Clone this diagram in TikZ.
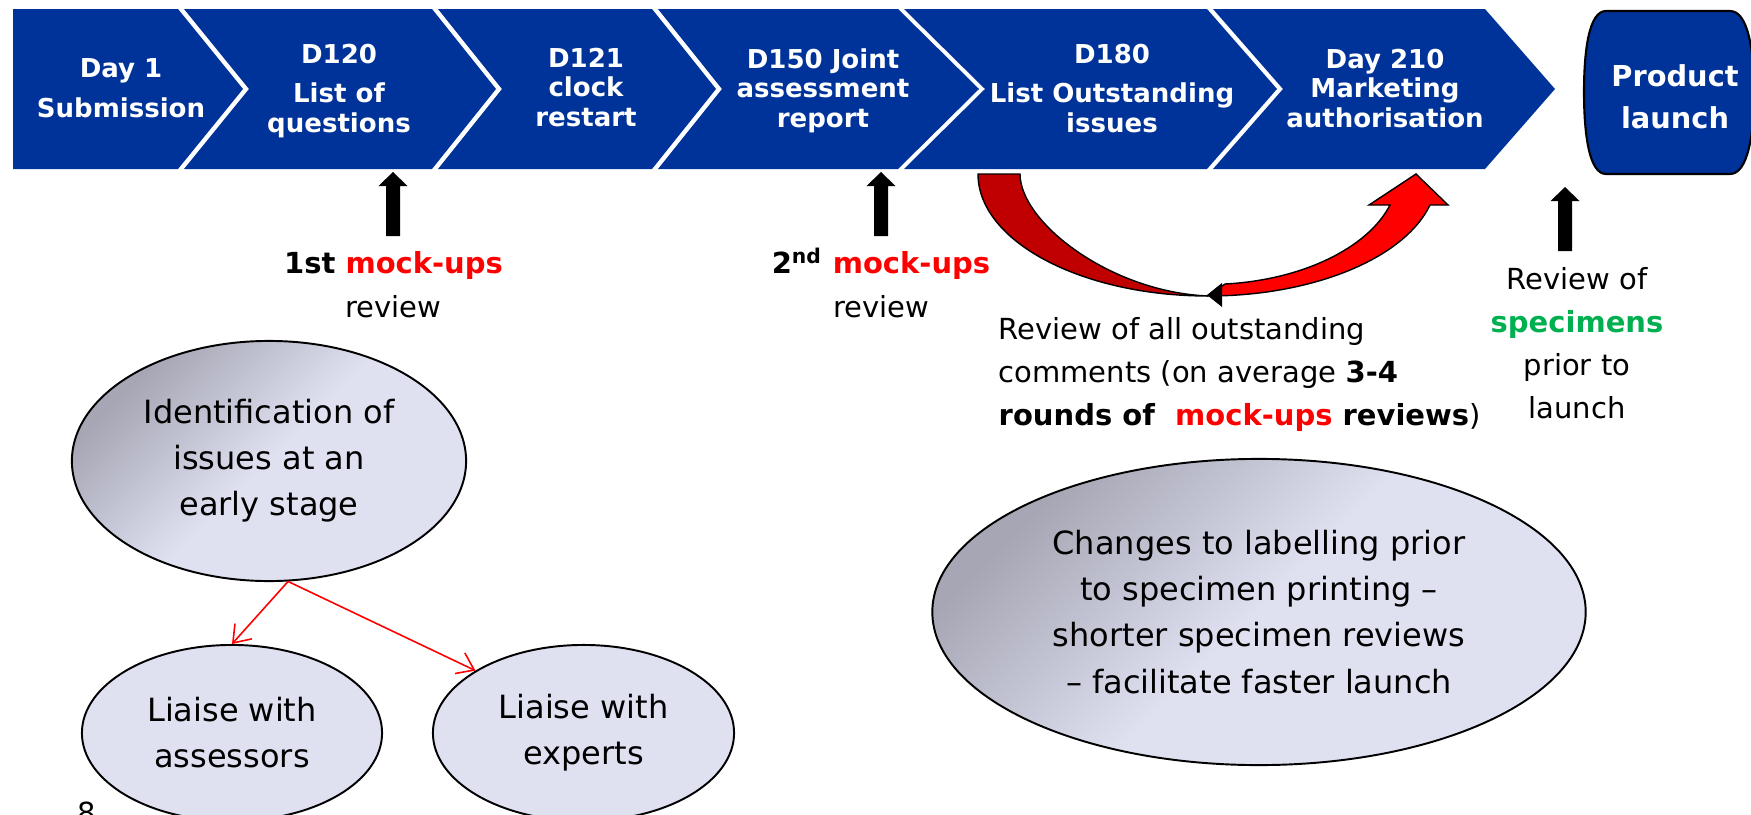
\documentclass[tikz,border=0pt]{standalone}
\usepackage{fontspec}
\setmainfont{DejaVu Sans}
\usetikzlibrary{arrows.meta,shapes.geometric}
\definecolor{evblue}{RGB}{0,51,153}
\definecolor{dred}{RGB}{192,0,0}
\definecolor{bred}{RGB}{255,0,0}
\definecolor{sgreen}{RGB}{0,176,80}
\definecolor{lav}{RGB}{223,225,241}
\definecolor{greyd}{RGB}{166,166,180}
\pgfdeclareverticalshading{ellgrad}{100bp}{color(0bp)=(lav); color(50bp)=(lav); color(74bp)=(greyd); color(100bp)=(greyd)}
\begin{document}
\begin{tikzpicture}[x=0.01cm, y=-0.01cm,
  chev/.style={fill=evblue},
  chevtext/.style={text=white, font=\bfseries\fontsize{7.4}{8.25}\selectfont, align=center, inner sep=0pt, anchor=base},
  plain/.style={font=\fontsize{8.25}{12.2}\selectfont, align=center, inner sep=0pt, anchor=base},
  ell/.style={ellipse, draw=black, line width=0.55pt, inner sep=0pt, font=\fontsize{9.1}{13.1}\selectfont, align=center},
  ellshade/.style={ell, shading=ellgrad, shading angle=45},
  ellflat/.style={ell, fill=lav},
  link/.style={draw=bred, line width=0.45pt, -{Straight Barb[length=4.5pt,width=6.5pt]}},
  blkarrow/.style={fill=black},
  bandpart/.style={draw=black, line width=0.4pt},
]
\useasboundingbox (0,0) rectangle (1751,815);
\fill[white] (0,0) rectangle (1751,815);

% chevrons
\fill[chev] (13,9) -- (178,9) -- (243,89) -- (178,169) -- (13,169) -- cycle;
\fill[chev] (184,9) -- (432,9) -- (496,89) -- (432,169) -- (184,169) -- (249,89) -- cycle;
\fill[chev] (438,9) -- (652,9) -- (716,89) -- (652,169) -- (438,169) -- (502,89) -- cycle;
\fill[chev] (658,9) -- (898,9) -- (979,89) -- (898,169) -- (658,169) -- (722,89) -- cycle;
\fill[chev] (904,9) -- (1207,9) -- (1277,89) -- (1207,169) -- (904,169) -- (985,89) -- cycle;
\fill[chev] (1213,9) -- (1485,9) -- (1555,89) -- (1485,169) -- (1213,169) -- (1283,89) -- cycle;

% (base anchor = baseline of last line)
\node[chevtext] (t1) at (121,117) {Day 1\\[2.85pt]Submission};
\node[chevtext] (t2) at (339,132) {D120\\[3.1pt]List of\\questions};
\node[chevtext] (t3) at (586,126) {D121\\clock\\restart};
\node[chevtext] (t4) at (823,127) {D150 Joint\\assessment\\report};
\node[chevtext] (t5) at (1112,132) {D180\\[3.1pt]List Outstanding\\issues};
\node[chevtext] (t6) at (1385,127) {Day 210\\Marketing\\authorisation};

% product launch
\path[fill=evblue, draw=black, line width=0.6pt] (1606,11) -- (1730,11)
  .. controls (1748,11) and (1754,50) .. (1754,92)
  .. controls (1754,134) and (1748,174) .. (1730,174) -- (1606,174)
  .. controls (1589,174) and (1584,134) .. (1584,92)
  .. controls (1584,50) and (1589,11) .. (1606,11) -- cycle;
\node[text=white, font=\bfseries\fontsize{8.2}{11.8}\selectfont, align=center, inner sep=0pt, anchor=base] (pl) at (1675,128) {Product\\launch};

% black block arrows
\fill[blkarrow] (386,236) -- (386,186) -- (378.5,186) -- (393,172) -- (407.5,186) -- (400,186) -- (400,236) -- cycle;
\fill[blkarrow] (874,236) -- (874,186) -- (866.5,186) -- (881,172) -- (895.5,186) -- (888,186) -- (888,236) -- cycle;
\fill[blkarrow] (1558,251) -- (1558,201) -- (1550.5,201) -- (1565,187) -- (1579.5,201) -- (1572,201) -- (1572,251) -- cycle;

\node[plain] (m1) at (393.5,317) {\textbf{1st \textcolor{bred}{mock-ups}}\\[0.3pt]review};
\node[plain] (m2) at (881,317) {\textbf{2\textsuperscript{nd} \textcolor{bred}{mock-ups}}\\[0.3pt]review};

% red curved arrow
\path[bandpart, fill=dred] (978,174) .. controls (978,241) and (1081,296) .. (1208,296)
  .. controls (1110,292) and (1020,222) .. (1020,174) -- cycle;
\path[bandpart, fill=bred] (1208,296) .. controls (1312,296) and (1404,259) .. (1430,205)
  -- (1448,205) -- (1416,174) -- (1369,205) -- (1390,205)
  .. controls (1368,248) and (1302,280) .. (1225,284) -- cycle;
\fill[black] (1207,295) -- (1222,283) -- (1222,307) -- cycle;

\node[plain, align=left, anchor=base west] (rv) at (998,425) {Review of all outstanding\\comments (on average \textbf{3-4}\\\textbf{rounds of \ \textcolor{bred}{mock-ups} reviews})};
\node[plain] (sp) at (1577,418) {Review of\\\textcolor{sgreen}{\textbf{specimens}}\\prior to\\launch};

% ellipses
\node[ellshade, minimum width=3.94cm, minimum height=2.40cm] (e1) at (269,461) {Identification of\\issues at an\\early stage};
\node[ellflat, minimum width=3.0cm, minimum height=1.76cm] (e2) at (232,733) {Liaise with\\assessors};
\node[ellflat, minimum width=3.01cm, minimum height=1.76cm] (e3) at (583.5,733) {Liaise with\\experts};
\node[ellshade, minimum width=6.53cm, minimum height=3.06cm] (e4) at (1259,612) {Changes to labelling prior\\to specimen printing –\\shorter specimen reviews\\– facilitate faster launch};

\draw[link] (e1.-81) -- (e2.north);
\draw[link] (e1.-81) -- (e3.150);

\node[font=\fontsize{8.25}{10}\selectfont, inner sep=0pt, anchor=base] (pg) at (87,823) {8};
\end{tikzpicture}
\end{document}
